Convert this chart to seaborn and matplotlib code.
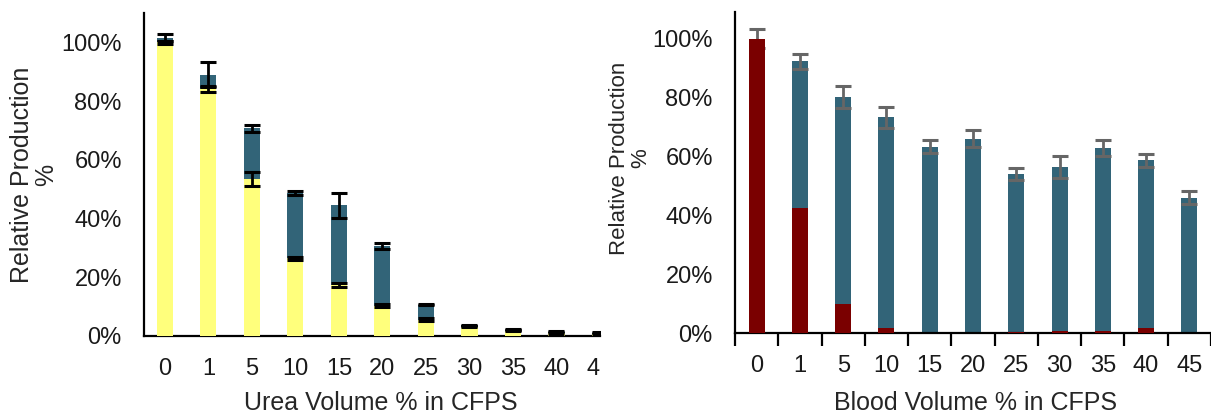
import numpy as np
import matplotlib
matplotlib.use("Agg")
import matplotlib.pyplot as plt
import seaborn as sns
from matplotlib.ticker import PercentFormatter, FixedLocator
from matplotlib.transforms import Bbox, TransformedBbox

cats = ["0", "1", "5", "10", "15", "20", "25", "30", "35", "40", "45"]

# urea panel
urea_teal = [101.5, 89.0, 70.7, 48.7, 44.5, 30.6, 10.7, 3.6, 2.2, 1.3, 1.1]
urea_teal_err = [1.2, 4.3, 1.2, 0.7, 4.2, 1.0, 0.3, 0.3, 0.3, 0.3, 0.3]
urea_yellow = [100.0, 84.0, 53.5, 26.4, 17.4, 10.3, 5.6, 3.2, 1.8, 1.0, 0.8]
urea_yellow_err = [0.4, 1.0, 2.4, 0.4, 0.7, 0.5, 0.4, 0.3, 0.2, 0.2, 0.2]

# blood panel
blood_teal = [100.0, 92.2, 80.1, 73.3, 63.2, 66.0, 53.9, 56.4, 62.8, 58.6, 45.9]
blood_teal_err = [3.2, 2.6, 3.7, 3.6, 2.2, 3.0, 2.1, 3.7, 2.6, 2.1, 2.2]
blood_red = [100.0, 42.4, 10.0, 1.7, 0.0, 0.0, 0.2, 0.8, 0.8, 1.6, 0.0]

YELLOW = "#FFFF7C"
TEAL = "#326478"
RED = "#7A0000"

sns.set_style("white")
plt.rcParams["font.family"] = ["Liberation Sans", "DejaVu Sans"]
plt.rcParams["text.color"] = "#1a1a1a"

fig = plt.figure(figsize=(12.11, 4.16), dpi=100)
W, H = 1211, 416
ax1 = fig.add_axes([144 / W, (H - 336) / H, (600 - 144) / W, (336 - 13) / H])
ax2 = fig.add_axes([735 / W, (H - 333) / H, (1211 - 735) / W, (333 - 12) / H])

xs = np.arange(len(cats))


def bars(ax, vals, color, z):
    sns.barplot(x=cats, y=vals, order=cats, color=color, saturation=1,
                width=0.37, errorbar=None, linewidth=0, ax=ax)
    for p in ax.containers[-1]:
        p.set_zorder(z)


# left: teal behind, yellow in front
bars(ax1, urea_teal, TEAL, 1)
ax1.errorbar(xs, urea_teal, yerr=urea_teal_err, fmt="none", ecolor="black",
             elinewidth=2, capsize=5.5, capthick=2.2, zorder=2)
bars(ax1, urea_yellow, YELLOW, 3)
ax1.errorbar(xs, urea_yellow, yerr=urea_yellow_err, fmt="none", ecolor="black",
             elinewidth=2, capsize=5.5, capthick=2.2, zorder=4)

# right: teal behind, red in front
bars(ax2, blood_teal, TEAL, 1)
ax2.errorbar(xs, blood_teal, yerr=blood_teal_err, fmt="none", ecolor="#666666",
             elinewidth=2, capsize=5.5, capthick=2.2, zorder=2)
bars(ax2, blood_red, RED, 3)

ax1.set_xlim(-0.48, 10.0)
ax1.set_ylim(0, 110)
ax2.set_xlim(-0.5, 10.5)
ax2.set_ylim(0, 109)

for ax in (ax1, ax2):
    sns.despine(ax=ax)
    for s in ("left", "bottom"):
        ax.spines[s].set_color("black")
        ax.spines[s].set_linewidth(1.6)
    ax.set_yticks([0, 20, 40, 60, 80, 100])
    ax.yaxis.set_major_formatter(PercentFormatter(xmax=100, decimals=0))
    ax.tick_params(axis="y", length=0, pad=16, labelsize=17, labelcolor="#1a1a1a")
    ax.tick_params(axis="x", which="major", length=0, pad=16, labelsize=17,
                   labelcolor="#1a1a1a")

# boundary tick marks on the blood axis
ax2.xaxis.set_minor_locator(FixedLocator(np.arange(-0.5, 11, 1)))
ax2.tick_params(axis="x", which="minor", direction="out", length=9, width=1.6,
                color="black", bottom=True)

ax1.set_ylabel("Relative Production\n%", fontsize=18, linespacing=1.0)
ax1.yaxis.set_label_coords(-0.189, 0.5)
ax2.set_ylabel("Relative Production\n%", fontsize=16, linespacing=1.0)
ax2.yaxis.set_label_coords(-0.176, 0.545)

ax1.set_xlabel("Urea Volume % in CFPS", fontsize=18)
ax1.xaxis.set_label_coords(0.52, -0.17)
ax2.set_xlabel("Blood Volume % in CFPS", fontsize=18)
ax2.xaxis.set_label_coords(0.506, -0.181)

# the left panel is cropped at its right edge, so its last label is cut
clip = TransformedBbox(Bbox.from_extents(0, 0, 600 / W, 1), fig.transFigure)
for lab in ax1.get_xticklabels():
    lab.set_clip_box(clip)
    lab.set_clip_on(True)

fig.savefig("out.png", dpi=100, facecolor="white")
